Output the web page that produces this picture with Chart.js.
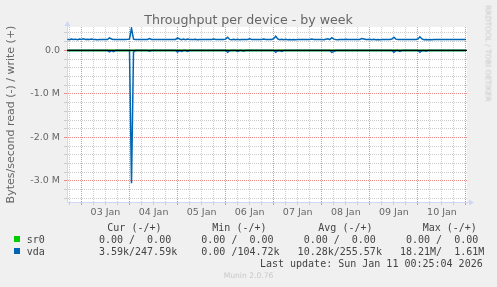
<!DOCTYPE html>
<html>
<head>
<meta charset="utf-8">
<title>Throughput per device - by week</title>
<script src="https://cdn.jsdelivr.net/npm/chart.js@4.4.1/dist/chart.umd.min.js"></script>
<style>
  body { margin: 0; background: #f0f0f0; }
  #graph { position: relative; width: 497px; height: 287px; overflow: hidden; font-family: 'DejaVu Sans', sans-serif; color: #666; }
  #graph canvas { position: absolute; left: 0; top: 0; }
  .txt { position: absolute; white-space: pre; }
  .title { left: 0; width: 497px; top: 12px; text-align: center; font-size: 12.6px; line-height: 15px; }
  .mono { font-family: 'DejaVu Sans Mono', monospace; font-size: 10px; line-height: 12px; color: #444; }
  .swatch { position: absolute; left: 14px; width: 6px; height: 6px; }
  .stamp { left: 0; width: 497px; top: 272px; text-align: center; font-size: 7.6px; line-height: 7.6px; color: #c8c8c8; }
  .rrd { left: 428px; width: 120px; top: 48.5px; text-align: center; font-size: 7.5px; line-height: 9px; color: #c8c8c8; transform: rotate(90deg); }
</style>
</head>
<body>
<div id="graph">
  <canvas id="throughputChart" width="497" height="287"></canvas>
  <div class="txt title">Throughput per device - by week</div>
  <div id="legend"></div>
  <div class="txt stamp">Munin 2.0.76</div>
  <div class="txt rrd">RRDTOOL / TOBI OETIKER</div>
</div>
<script>
// hours counted from 03 Jan 00:00, one sample per hour
const startHour = -7;
const dayLabels = ['03 Jan', '04 Jan', '05 Jan', '06 Jan', '07 Jan', '08 Jan', '09 Jan', '10 Jan'];
const yTickValues = [0, -1000, -2000, -3000];
const yTickLabels = ['0.0', '-1.0 M', '-2.0 M', '-3.0 M'];

// kB/s written by vda
const vdaWrite = [
  255, 246, 262, 250, 258, 246, 260,
  252, 264, 249, 258, 250, 262, 250, 250, 242, 252, 250, 251, 250, 250, 288, 262, 250, 250, 251, 250, 250, 250, 250, 255,
  262, 510, 258, 250, 251, 250, 250, 250, 250, 250, 270, 250, 250, 250, 250, 250, 250, 250, 250, 250, 250, 250, 250, 252,
  288, 262, 245, 258, 246, 262, 250, 250, 250, 256, 242, 250, 250, 250, 250, 250, 250, 250, 262, 250, 250, 250, 250, 252,
  258, 300, 252, 246, 255, 246, 256, 244, 250, 250, 250, 250, 266, 250, 250, 250, 250, 250, 250, 262, 250, 250, 250, 250,
  270, 324, 262, 246, 255, 244, 254, 246, 252, 244, 250, 246, 250, 250, 250, 250, 250, 250, 250, 262, 250, 250, 250, 250,
  250, 244, 256, 264, 248, 290, 258, 250, 244, 250, 250, 250, 258, 250, 250, 250, 250, 250, 250, 250, 274, 262, 250, 250,
  256, 244, 254, 246, 252, 244, 252, 250, 250, 250, 250, 262, 302, 258, 250, 250, 250, 250, 250, 250, 250, 250, 250, 250,
  262, 312, 262, 246, 252, 244, 252, 246, 250, 250, 250, 250, 250, 250, 250, 250, 250, 250, 250, 250, 250, 250, 250, 250,
  248
];

// kB/s read by vda (drawn below zero)
const vdaRead = [
  4, 3, 5, 4, 3, 4, 5,
  4, 3, 4, 5, 3, 4, 3, 4, 3, 4, 3, 4, 3, 5, 36, 6, 30, 4, 3, 4, 3, 4, 3, 5,
  8, 3050, 40, 5, 4, 3, 4, 3, 4, 3, 18, 4, 3, 4, 3, 4, 3, 4, 3, 4, 3, 4, 3, 4,
  40, 6, 22, 4, 5, 24, 4, 3, 4, 3, 4, 3, 4, 3, 4, 3, 4, 3, 4, 3, 4, 3, 4, 4,
  4, 45, 8, 4, 3, 4, 25, 4, 3, 18, 4, 3, 4, 3, 4, 3, 4, 3, 4, 3, 4, 3, 4, 4,
  4, 45, 6, 4, 25, 4, 3, 4, 3, 4, 3, 4, 3, 4, 3, 4, 3, 4, 3, 4, 3, 4, 3, 4,
  4, 3, 4, 3, 4, 45, 28, 4, 3, 4, 3, 4, 3, 4, 3, 4, 3, 4, 3, 4, 3, 4, 3, 4,
  4, 3, 4, 3, 4, 3, 4, 3, 4, 3, 4, 3, 45, 5, 4, 25, 4, 3, 4, 3, 4, 3, 4, 4,
  4, 45, 6, 4, 20, 4, 3, 4, 3, 4, 3, 4, 3, 4, 3, 4, 3, 4, 3, 4, 3, 4, 3, 4,
  4
];

const sr0Hours = [-7, 192];
const sr0Write = [0, 0];
const sr0Read = [0, 0];

const seriesNames = ['sr0', 'vda'];
const seriesColors = ['#00cc00', '#0066b3'];
const legendHeaders = ['Cur (-/+)', 'Min (-/+)', 'Avg (-/+)', 'Max (-/+)'];
const curValues = ['  0.00 /  0.00 ', '  3.59k/247.59k'];
const minValues = ['  0.00 /  0.00 ', '  0.00 /104.72k'];
const avgValues = ['  0.00 /  0.00 ', ' 10.28k/255.57k'];
const maxValues = ['  0.00 /  0.00 ', ' 18.21M/  1.61M'];
const lastUpdate = 'Last update: Sun Jan 11 00:25:04 2026';

const GRID_MINOR = 'rgb(205,205,205)';
const GRID_MAJOR = 'rgb(235,140,140)';
const AXIS_COLOR = '#cfd6f8';

const muninFrame = {
  id: 'muninFrame',
  beforeDraw(chart) {
    const { ctx, chartArea: a } = chart;
    ctx.save();
    ctx.fillStyle = '#ffffff';
    ctx.fillRect(a.left, a.top, a.right - a.left, a.bottom - a.top);
    ctx.restore();
  },
  afterDatasetsDraw(chart) {
    const { ctx, chartArea: a, scales } = chart;
    const y0 = scales.y.getPixelForValue(0);
    ctx.save();
    ctx.strokeStyle = '#000000';
    ctx.lineWidth = 1.4;
    ctx.beginPath();
    ctx.moveTo(a.left, y0);
    ctx.lineTo(a.right, y0);
    ctx.stroke();

    // axis arrows
    const ax = Math.round(a.left) + 0.5;
    const ay = Math.round(a.bottom) + 0.5;
    ctx.strokeStyle = AXIS_COLOR;
    ctx.fillStyle = AXIS_COLOR;
    ctx.lineWidth = 1;
    ctx.beginPath();
    ctx.moveTo(ax, a.top);
    ctx.lineTo(ax, a.top - 3);
    ctx.moveTo(a.right, ay);
    ctx.lineTo(a.right + 3, ay);
    ctx.stroke();
    ctx.beginPath();
    ctx.moveTo(ax - 3, a.top - 1);
    ctx.lineTo(ax + 3, a.top - 1);
    ctx.lineTo(ax, a.top - 6);
    ctx.closePath();
    ctx.fill();
    ctx.beginPath();
    ctx.moveTo(a.right + 2, ay - 3);
    ctx.lineTo(a.right + 2, ay + 3);
    ctx.lineTo(a.right + 7, ay);
    ctx.closePath();
    ctx.fill();
    ctx.restore();
  }
};

const ThroughputGraph = {
  initialize: function() {
    this.buildLegend();
    this.initChart();
  },

  buildLegend: function() {
    const legend = document.getElementById('legend');
    const headerLeft = [107.3, 212.3, 318.3, 422.7];
    let html = '';

    legendHeaders.forEach((h, i) => {
      html += `<div class="txt mono" style="left:${headerLeft[i]}px;top:221.5px">${h}</div>`;
    });

    seriesNames.forEach((name, i) => {
      const top = 233.8 + i * 12.2;
      const row = name.padEnd(10, ' ') + [curValues[i], minValues[i], avgValues[i], maxValues[i]].join('  ');
      html += `<div class="swatch" style="top:${top + 2.4}px;background:${seriesColors[i]}"></div>`;
      html += `<div class="txt mono" style="left:26.7px;top:${top}px">${row}</div>`;
    });

    html += `<div class="txt mono" style="right:14.3px;top:257.8px">${lastUpdate}</div>`;
    legend.innerHTML = html;
  },

  initChart: function() {
    const ctx = document.getElementById('throughputChart').getContext('2d');
    const hourly = (values, sign) => values.map((v, i) => ({ x: startHour + i, y: sign * v }));
    const sparse = (values, sign) => values.map((v, i) => ({ x: sr0Hours[i], y: sign * v }));
    const tickFont = { family: 'DejaVu Sans', size: 9.5 };
    const isDay = c => c.tick && Math.abs(c.tick.value % 24) < 0.001;
    const isMillion = c => c.tick && Math.abs(c.tick.value % 1000) < 0.001;

    window.throughputChart = new Chart(ctx, {
      type: 'line',
      data: {
        datasets: [
          { label: 'vda write', data: hourly(vdaWrite, 1), borderColor: seriesColors[1] },
          { label: 'vda read', data: hourly(vdaRead, -1), borderColor: seriesColors[1] },
          { label: 'sr0 write', data: sparse(sr0Write, 1), borderColor: seriesColors[0] },
          { label: 'sr0 read', data: sparse(sr0Read, -1), borderColor: seriesColors[0] }
        ]
      },
      options: {
        responsive: false,
        animation: false,
        events: [],
        elements: {
          line: { borderWidth: 1.5, tension: 0 },
          point: { radius: 0 }
        },
        layout: { padding: { top: 27, right: 30, bottom: 65, left: 0 } },
        plugins: {
          legend: { display: false },
          tooltip: { enabled: false }
        },
        scales: {
          x: {
            type: 'linear',
            min: -7.2,
            max: 192.5,
            afterBuildTicks: scale => {
              const ticks = [];
              for (let h = -6; h <= 192; h += 6) ticks.push({ value: h });
              scale.ticks = ticks;
            },
            afterFit: scale => { scale.height = 20; },
            grid: {
              color: c => (isDay(c) ? GRID_MAJOR : GRID_MINOR),
              tickColor: c => (isDay(c) ? GRID_MAJOR : GRID_MINOR),
              tickLength: 3
            },
            border: { color: AXIS_COLOR, width: 1, dash: [1, 1] },
            ticks: {
              autoSkip: false,
              maxRotation: 0,
              padding: 2,
              color: '#666',
              font: tickFont,
              callback: value => {
                const k = (value - 12) / 24;
                return value % 24 === 12 && dayLabels[k] ? dayLabels[k] : '';
              }
            }
          },
          y: {
            type: 'linear',
            min: -3483,
            max: 537,
            afterBuildTicks: scale => {
              const ticks = [];
              for (let v = -3400; v <= 400; v += 200) ticks.push({ value: v });
              scale.ticks = ticks;
            },
            afterFit: scale => { scale.width = 67; },
            grid: {
              color: c => (isMillion(c) ? GRID_MAJOR : GRID_MINOR),
              tickColor: c => (isMillion(c) ? GRID_MAJOR : GRID_MINOR),
              tickLength: 3
            },
            border: { color: AXIS_COLOR, width: 1, dash: [1, 1] },
            title: {
              display: true,
              text: 'Bytes/second read (-) / write (+)',
              color: '#666',
              font: { family: 'DejaVu Sans', size: 11 },
              padding: { top: 4.5, bottom: 0 }
            },
            ticks: {
              autoSkip: false,
              padding: 4,
              color: '#666',
              font: tickFont,
              callback: value => {
                const i = yTickValues.indexOf(value);
                return i >= 0 ? yTickLabels[i] : '';
              }
            }
          }
        }
      },
      plugins: [muninFrame]
    });
  }
};

ThroughputGraph.initialize();
</script>
</body>
</html>
